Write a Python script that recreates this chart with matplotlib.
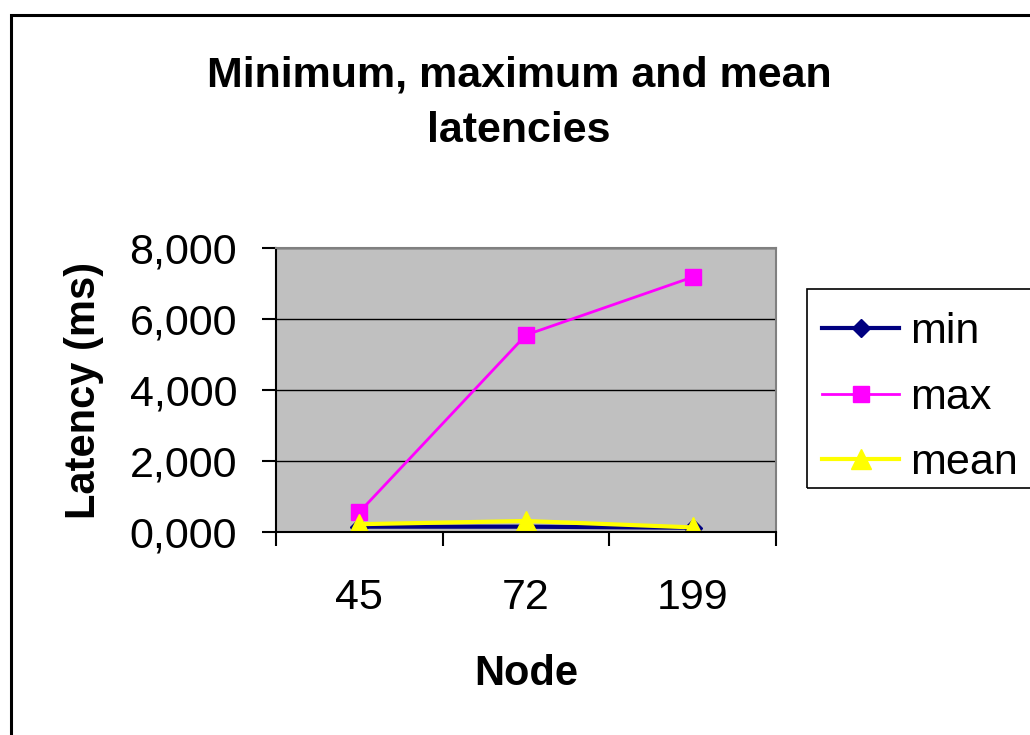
import matplotlib
matplotlib.use("Agg")
import matplotlib.pyplot as plt
from matplotlib.patches import Rectangle
from matplotlib.ticker import FuncFormatter, MultipleLocator

nodes = ["45", "72", "199"]
min_ms = [150, 150, 120]
max_ms = [560, 5550, 7180]
mean_ms = [220, 310, 130]

W, H = 1030, 735
plt.rcParams["font.family"] = ["Liberation Sans", "DejaVu Sans"]

fig = plt.figure(figsize=(W / 100, H / 100), dpi=100)
fig.patch.set_facecolor("white")

# outer chart border (runs off the right and bottom edges)
fig.patches.append(Rectangle((11 / W, -0.1), 1.2, 1 - 15.5 / H + 0.1,
                             transform=fig.transFigure, fill=False,
                             edgecolor="black", linewidth=2.2))

ax = fig.add_axes([276 / W, 1 - 532 / H, 500 / W, 284 / H])
ax.set_facecolor("#C0C0C0")
for s in ax.spines.values():
    s.set_color("#808080")
    s.set_linewidth(1.5)
ax.spines["bottom"].set_color("black")
ax.spines["left"].set_color("black")

x = range(len(nodes))
ax.plot(x, min_ms, color="#000080", marker="D", markersize=9.5, linewidth=3, label="min")
ax.plot(x, max_ms, color="#FF00FF", marker="s", markersize=11.5, linewidth=2, label="max")
ax.plot(x, mean_ms, color="#FFFF00", marker="^", markersize=15, linewidth=3, label="mean")

ax.set_xlim(-0.5, 2.5)
ax.set_ylim(0, 8000)
ax.yaxis.set_major_locator(MultipleLocator(2000))
ax.yaxis.set_major_formatter(FuncFormatter(lambda v, p: f"{v / 1000:.3f}".replace(".", ",")))
ax.grid(axis="y", color="black", linewidth=1)
ax.set_axisbelow(True)

ax.set_xticks([0, 1, 2])
ax.set_xticklabels(nodes)
ax.set_xticks([-0.5, 0.5, 1.5, 2.5], minor=True)
ax.tick_params(axis="x", which="major", length=0, labelsize=31, pad=33)
ax.tick_params(axis="x", which="minor", length=10, width=1.5, direction="out", color="black")
ax.tick_params(axis="y", length=10, width=1.5, labelsize=31, pad=18, color="black")

ax.set_xlabel("Node", fontsize=30, fontweight="bold", labelpad=26)
ax.set_ylabel("Latency (ms)", fontsize=30, fontweight="bold", labelpad=18)

fig.text(519 / W, 1 - 103 / H, "Minimum, maximum and mean\nlatencies",
         ha="center", va="center", fontsize=31, fontweight="bold", linespacing=1.5)

# legend box drawn separately so the frame can run off the right edge
fig.patches.append(Rectangle((807 / W, 1 - 488 / H), 300 / W, 199 / H,
                             transform=fig.transFigure, fill=False,
                             edgecolor="black", linewidth=1.2))
leg = ax.legend(loc="upper left", bbox_to_anchor=(799 / W, 1 - 289 / H),
                bbox_transform=fig.transFigure, fontsize=31, frameon=False,
                borderpad=0.53, labelspacing=0.6, handlelength=1.8,
                handletextpad=0.25, borderaxespad=0)

fig.savefig("out.png", dpi=100)
